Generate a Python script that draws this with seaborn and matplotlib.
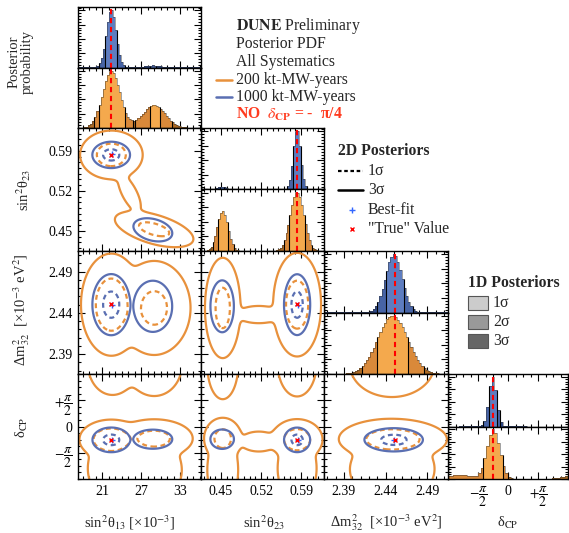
import numpy as np
import pandas as pd
import matplotlib
matplotlib.use("Agg")
import matplotlib.pyplot as plt
import seaborn as sns
from matplotlib.lines import Line2D
from matplotlib.patches import Rectangle
from matplotlib.ticker import FixedLocator, MultipleLocator, AutoMinorLocator, MaxNLocator, NullFormatter

sns.set_style("ticks")
plt.rcParams['font.family'] = ['Liberation Serif', 'DejaVu Serif']
plt.rcParams['mathtext.fontset'] = 'stix'

# ---------------- data ----------------
axis_labels = [r"sin$^2$θ$_{13}$ [×10$^{-3}$]", r"sin$^2$θ$_{23}$",
               r"Δm$^2_{32}$  [×10$^{-3}$ eV$^2$]", r"δ$_{\rm CP}$"]
axis_ranges = [(17.3, 36.2), (0.415, 0.630), (2.366, 2.515), (-np.pi, np.pi)]
major_ticks = [[21, 27, 33], [0.45, 0.52, 0.59], [2.39, 2.44, 2.49], [-np.pi / 2, 0, np.pi / 2]]
tick_labels = [["21", "27", "33"], ["0.45", "0.52", "0.59"], ["2.39", "2.44", "2.49"],
               [r"$-\dfrac{\pi}{2}$", "0", r"$+\dfrac{\pi}{2}$"]]
minor_steps = [1.0, 0.01, 0.01, np.pi / 8]
n_bins = [60, 64, 56, 44]

true_values = [22.4, 0.582, 2.451, -np.pi / 4]
best_fit = [22.5, 0.584, 2.450, -0.80]

# 1000 kt-MW-years posterior modes (th13, th23, dm32, dcp)
w_1000 = [0.95, 0.05]
mu_1000 = [[22.4, 0.583, 2.450, -0.80], [28.8, 0.452, 2.448, -0.76]]
sd_1000 = [[0.78, 0.0062, 0.010, 0.20], [1.15, 0.0078, 0.012, 0.22]]
rho_1000 = [0.0, -0.3]

# 200 kt-MW-years posterior modes (main A, main B, bridge, dcp tail A, dcp tail B)
w_200 = [0.56, 0.26, 0.004, 0.07, 0.07]
mu_200 = [[22.4, 0.583, 2.450, -0.78], [29.0, 0.453, 2.446, -0.72],
          [25.2, 0.516, 2.438, -0.90], [22.6, 0.583, 2.450, -2.5], [29.0, 0.453, 2.446, -2.6]]
sd_200 = [[1.35, 0.012, 0.018, 0.33], [1.8, 0.0092, 0.018, 0.35],
          [1.2, 0.022, 0.006, 0.40], [1.4, 0.012, 0.018, 0.70], [1.6, 0.0092, 0.018, 0.70]]
rho_200 = [0.0, -0.55, -0.7, 0.0, -0.5]

exposures = ["1000 kt-MW-years", "200 kt-MW-years"]
line_colors = {"200 kt-MW-years": "#E8913C", "1000 kt-MW-years": "#5A6FB2"}
fill_colors = {"1000 kt-MW-years": ["#5E7DC0", "#4764A6", "#2E4785"],
               "200 kt-MW-years": ["#F4A94D", "#D9893A", "#AD6A24"]}
models = {"1000 kt-MW-years": (w_1000, mu_1000, sd_1000, rho_1000),
          "200 kt-MW-years": (w_200, mu_200, sd_200, rho_200)}
sig_probs = [0.6827, 0.9545, 0.9973]
level_names = ["1σ", "2σ", "3σ"]

# ---------------- helpers ----------------
def offsets(k):
    return [-2 * np.pi, 0.0, 2 * np.pi] if k == 3 else [0.0]

def dens1d(x, k, model):
    w, mu, sd, rho = model
    out = np.zeros_like(x, dtype=float)
    for wi, m, s in zip(w, mu, sd):
        for o in offsets(k):
            out += wi * np.exp(-0.5 * ((x - m[k] - o) / s[k]) ** 2) / s[k]
    return out

def dens2d(X, Y, i, j, model):
    w, mu, sd, rho = model
    out = np.zeros_like(X)
    for wi, m, s, r in zip(w, mu, sd, rho):
        rr = r if {i, j} == {0, 1} else 0.0
        for ox in offsets(i):
            for oy in offsets(j):
                u = (X - m[i] - ox) / s[i]
                v = (Y - m[j] - oy) / s[j]
                q = (u * u - 2 * rr * u * v + v * v) / (1 - rr * rr)
                out += wi * np.exp(-0.5 * q) / (s[i] * s[j] * np.sqrt(1 - rr * rr))
    return out

def thresholds(Z, probs):
    z = np.sort(Z.ravel())[::-1]
    c = np.cumsum(z)
    c /= c[-1]
    return [z[min(np.searchsorted(c, p), len(z) - 1)] for p in probs]

W, H = 569, 533
fig = plt.figure(figsize=(W / 100, H / 100), dpi=100)
col_px = [78, 201, 324, 448, 568]
row_px = [7, 128, 251, 374, 479]

def add_ax(x0, x1, y0, y1):
    return fig.add_axes([x0 / W, 1 - y1 / H, (x1 - x0) / W, (y1 - y0) / H])

def style(ax, xi, yi=None, xlab=False, ylab=False):
    ax.tick_params(which='both', direction='in', top=True, right=True, bottom=True, left=True,
                   labelsize=10, width=0.8, colors='black', pad=4)
    ax.tick_params(which='major', length=5)
    ax.tick_params(which='minor', length=2.5)
    for s in ax.spines.values():
        s.set_linewidth(1.0)
        s.set_color('black')
    ax.set_xlim(axis_ranges[xi])
    ax.xaxis.set_major_locator(FixedLocator(major_ticks[xi]))
    ax.xaxis.set_minor_locator(MultipleLocator(minor_steps[xi]))
    if xlab:
        ax.set_xticklabels(tick_labels[xi])
    else:
        ax.xaxis.set_major_formatter(NullFormatter())
    if yi is not None:
        ax.set_ylim(axis_ranges[yi])
        ax.yaxis.set_major_locator(FixedLocator(major_ticks[yi]))
        ax.yaxis.set_minor_locator(MultipleLocator(minor_steps[yi]))
        if ylab:
            ax.set_yticklabels(tick_labels[yi])
        else:
            ax.yaxis.set_major_formatter(NullFormatter())
    else:
        ax.yaxis.set_major_locator(MaxNLocator(5))
        ax.yaxis.set_minor_locator(AutoMinorLocator(5))
        ax.yaxis.set_major_formatter(NullFormatter())
    ax.set_xlabel("")
    ax.set_ylabel("")

# ---------------- 1D posteriors ----------------
for k in range(4):
    x0, x1 = col_px[k], col_px[k + 1]
    y0, y1 = row_px[k], row_px[k + 1]
    ym = 0.5 * (y0 + y1)
    lo, hi = axis_ranges[k]
    edges = np.linspace(lo, hi, n_bins[k] + 1)
    centers = 0.5 * (edges[1:] + edges[:-1])
    for idx, exp_name in enumerate(exposures):
        ax = add_ax(x0, x1, y0, ym) if idx == 0 else add_ax(x0, x1, ym, y1)
        h = dens1d(centers, k, models[exp_name])
        h = h / h.max()
        order = np.argsort(-h)
        cprev = (np.cumsum(h[order]) - h[order]) / h.sum()
        lvl = np.empty(len(h), dtype=int)
        lvl[order] = np.minimum(np.searchsorted(sig_probs, cprev, side='right'), 2)
        df = pd.DataFrame({"x": centers, "h": h, "level": [level_names[l] for l in lvl]})
        pal = dict(zip(level_names, fill_colors[exp_name]))
        sns.histplot(data=df, x="x", weights="h", bins=n_bins[k], binrange=(lo, hi),
                     hue="level", hue_order=level_names, palette=pal, multiple="layer",
                     element="step", fill=True, alpha=1.0, linewidth=0, legend=False, ax=ax)
        ax.stairs(h, edges, color="#333333", linewidth=0.4, alpha=0.8)
        change = np.nonzero(np.diff(lvl) != 0)[0]
        ax.vlines(edges[change + 1], 0, np.maximum(h[change], h[change + 1]), color="black", lw=0.8)
        ax.axvline(true_values[k], color="red", ls=(0, (2.5, 1.8)), lw=1.5)
        style(ax, k, xlab=(k == 3 and idx == 1))
        ax.set_ylim(0, 1.06)

# ---------------- 2D posteriors ----------------
for r in range(1, 4):
    for c in range(r):
        ax = add_ax(col_px[c], col_px[c + 1], row_px[r], row_px[r + 1])
        gx = np.linspace(*axis_ranges[c], 240)
        gy = np.linspace(*axis_ranges[r], 240)
        X, Y = np.meshgrid(gx, gy)
        for exp_name in ["200 kt-MW-years", "1000 kt-MW-years"]:
            Z = dens2d(X, Y, c, r, models[exp_name])
            t1, t3 = thresholds(Z, [sig_probs[0], sig_probs[2]])
            ax.contour(X, Y, Z, levels=[t3], colors=[line_colors[exp_name]], linewidths=1.6,
                       linestyles='solid')
            ax.contour(X, Y, Z, levels=[t1], colors=[line_colors[exp_name]], linewidths=1.6,
                       linestyles=[(0, (2.2, 1.6))])
        ax.plot(best_fit[c], best_fit[r], marker='+', color='#3366FF', ms=5, mew=1.0, ls='none')
        ax.plot(true_values[c], true_values[r], marker='x', color='red', ms=3.5, mew=1.0, ls='none')
        style(ax, c, r, xlab=(r == 3), ylab=(c == 0))

# ---------------- axis titles ----------------
def fx(x):
    return x / W

def fy(y):
    return 1 - y / H

fig.text(fx(21), fy(62), "Posterior\nprobability", rotation=90, ha='center', va='center',
         fontsize=10.5, linespacing=1.0)
fig.text(fx(24), fy(190), axis_labels[1], rotation=90, ha='center', va='center', fontsize=10.5)
fig.text(fx(22), fy(310), axis_labels[2], rotation=90, ha='center', va='center', fontsize=10.5)
fig.text(fx(22), fy(427), axis_labels[3], rotation=90, ha='center', va='center', fontsize=10.5)
for k, xc in enumerate([130, 264, 386, 508]):
    fig.text(fx(xc), fy(523), axis_labels[k], ha='center', va='center', fontsize=10.5)

# ---------------- legends ----------------
fs = 11.3
tx = 236
fig.text(fx(tx), fy(26), r"$\mathbf{DUNE}$ Preliminary", fontsize=fs, ha='left', va='center')
fig.text(fx(tx), fy(44), "Posterior PDF", fontsize=fs, ha='left', va='center')
fig.text(fx(tx), fy(62), "All Systematics", fontsize=fs, ha='left', va='center')
for yy, name in [(80, "200 kt-MW-years"), (97, "1000 kt-MW-years")]:
    fig.add_artist(Line2D([fx(216), fx(232)], [fy(yy), fy(yy)], color=line_colors[name], lw=1.8))
    fig.text(fx(tx), fy(yy), name, fontsize=fs, ha='left', va='center')
fig.text(fx(tx), fy(114), r"NO  $\delta_{\mathbf{CP}}$ = -  π/4", fontsize=fs, fontweight='bold',
         color='#FF3B1F', ha='left', va='center')

fig.text(fx(338), fy(151), "2D Posteriors", fontsize=fs, fontweight='bold', ha='left', va='center')
fig.add_artist(Line2D([fx(338), fx(363)], [fy(171), fy(171)], color='black', lw=1.6, ls=(0, (1.6, 1.2))))
fig.text(fx(368), fy(171), "1σ", fontsize=fs, ha='left', va='center')
fig.add_artist(Line2D([fx(338), fx(363)], [fy(190), fy(190)], color='black', lw=1.8))
fig.text(fx(368), fy(190), "3σ", fontsize=fs, ha='left', va='center')
fig.add_artist(Line2D([fx(352)], [fy(210)], marker='+', color='#3366FF', ms=5, mew=1.0, ls='none'))
fig.text(fx(368), fy(210), "Best-fit", fontsize=fs, ha='left', va='center')
fig.add_artist(Line2D([fx(352)], [fy(229)], marker='x', color='red', ms=3.5, mew=1.0, ls='none'))
fig.text(fx(368), fy(229), "\"True\" Value", fontsize=fs, ha='left', va='center')

fig.text(fx(468), fy(283), "1D Posteriors", fontsize=fs, fontweight='bold', ha='left', va='center')
for yy, col, lab in [(303, '#CCCCCC', "1σ"), (322, '#999999', "2σ"), (341, '#666666', "3σ")]:
    fig.add_artist(Rectangle((fx(468), fy(yy + 7)), 20 / W, 14 / H, transform=fig.transFigure,
                             facecolor=col, edgecolor='#555555', lw=0.8))
    fig.text(fx(493), fy(yy), lab, fontsize=fs, ha='left', va='center')

fig.savefig("out.png", dpi=100)
